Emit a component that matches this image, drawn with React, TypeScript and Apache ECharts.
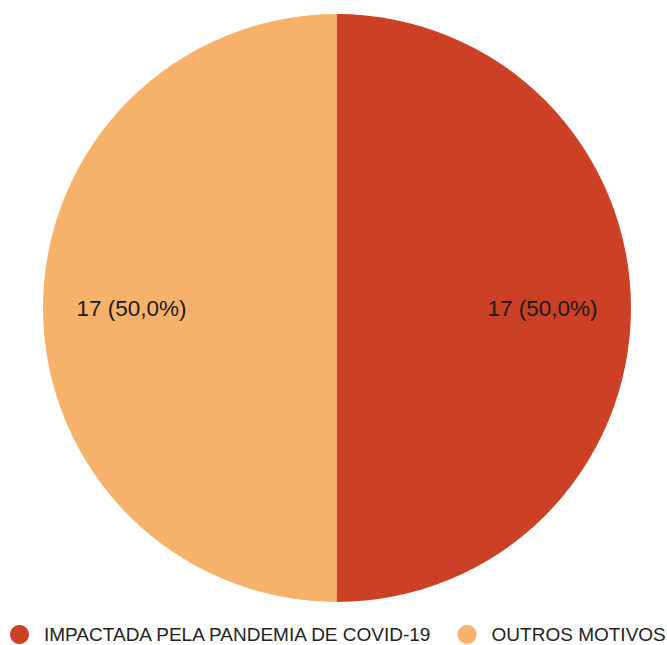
import React, { useEffect, useRef } from "react";
import * as echarts from "echarts";

const categories = ["IMPACTADA PELA PANDEMIA DE COVID-19", "OUTROS MOTIVOS"];
const values = [17, 17];
const colors = ["#cc4125", "#f6b26b"];

export default function App() {
  const ref = useRef<HTMLDivElement>(null);
  useEffect(() => {
    document.body.style.margin = "0";
    if (!ref.current) return;
    const chart = echarts.init(ref.current, null, { renderer: "svg" });
    const data = categories.map((name, i) => ({
      name,
      value: values[i],
      itemStyle: { color: colors[i] },
    }));
    const fmt = (p: any) => `${p.value} (${p.percent.toFixed(1).replace(".", ",")}%)`;
    chart.setOption({
      animation: false,
      backgroundColor: "#ffffff",
      legend: {
        data: categories,
        left: 10,
        top: 625,
        width: 665,
        padding: 0,
        icon: "circle",
        itemWidth: 19,
        itemHeight: 19,
        itemGap: 24,
        textStyle: {
          fontFamily: "Liberation Sans, Arial, sans-serif",
          fontSize: 19,
          color: "#222222",
          padding: [0, 0, 0, 10],
        },
      },
      series: [
        {
          type: "pie",
          center: [337, 308],
          radius: [0, 294],
          startAngle: 90,
          clockwise: true,
          data,
          label: { show: false },
          labelLine: { show: false },
          emphasis: { disabled: true },
        },
        {
          type: "pie",
          center: [337, 308],
          radius: [111, 294],
          startAngle: 90,
          clockwise: true,
          silent: true,
          legendHoverLink: false,
          data: categories.map((name, i) => ({
            name: name + " ",
            value: values[i],
            itemStyle: { color: "rgba(0,0,0,0)" },
          })),
          label: {
            show: true,
            position: "inside",
            formatter: fmt,
            fontFamily: "Liberation Sans, Arial, sans-serif",
            fontSize: 22.5,
            color: "#1a1a1a",
          },
          labelLine: { show: false },
          emphasis: { disabled: true },
        },
      ],
    });
    return () => chart.dispose();
  }, []);
  return <div ref={ref} style={{ width: 667, height: 645 }} />;
}
